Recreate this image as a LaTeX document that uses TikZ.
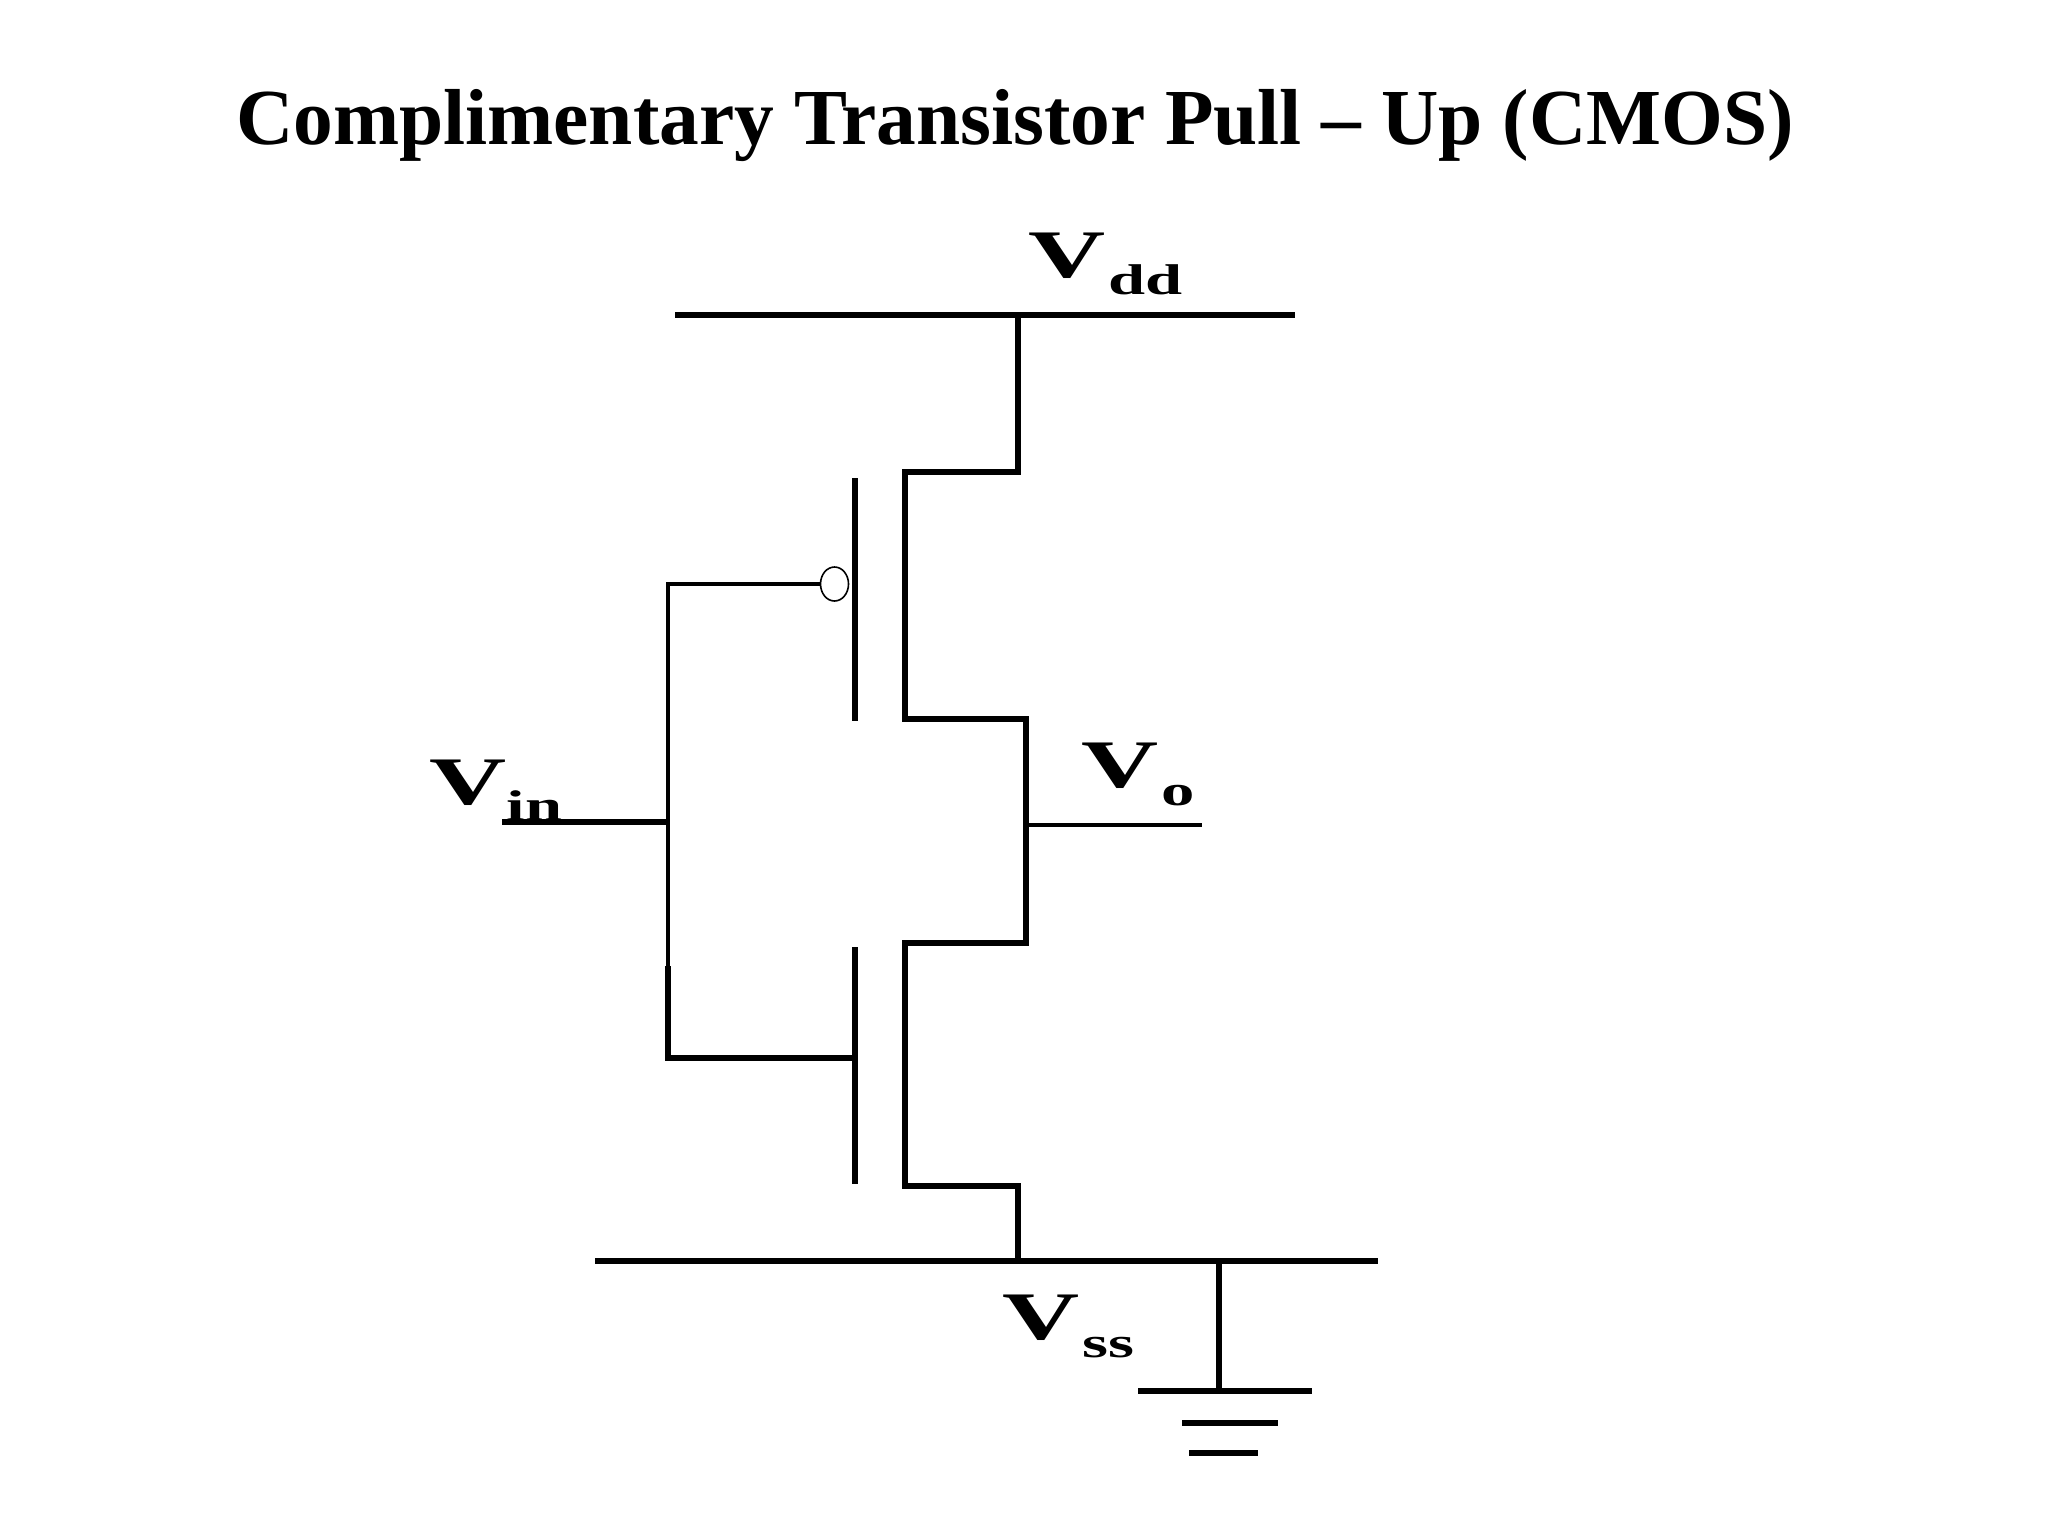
\documentclass[tikz,border=0pt]{standalone}
\usepackage{fontspec}
\usepackage{tikz}
\usetikzlibrary{shapes.geometric}
\setmainfont{Liberation Serif}

% V with a stretched subscript, bitmap look of the labels
\newcommand{\vname}[3]{\scalebox{1.57}[1]{\fontsize{34}{34}\selectfont\bfseries V}\raisebox{#3}{\hspace{#2}\scalebox{1.55}[1]{\fontsize{21.5}{22}\selectfont\bfseries #1}}}

\tikzset{
	wire/.style={line width=2.8pt},
	railwire/.style={line width=2.6pt},
	thinwire/.style={line width=1.8pt},
	vlabel/.style={anchor=base west, inner sep=0pt}
}

\begin{document}
\begin{tikzpicture}[x=0.5pt,y=-0.5pt]
\useasboundingbox (0,0) rectangle (2048,1536);

% title
\node[anchor=base] (title) at (1015,144) {\fontsize{39.7}{40}\selectfont\bfseries Complimentary Transistor Pull -- Up (CMOS)};

% rails
\coordinate (vddl) at (675,315);
\coordinate (vddr) at (1295,315);
\coordinate (vddt) at (1018,315);
\coordinate (vssl) at (595,1261);
\coordinate (vssr) at (1378,1261);
\coordinate (vsst) at (1018,1261);
\coordinate (gndt) at (1219,1261);
\draw[railwire] (vddl) -- (vddr);
\draw[railwire] (vssl) -- (vssr);

% drain and source path
\coordinate (pa) at (1018,472);
\coordinate (pb) at (905,472);
\coordinate (pc) at (905,719);
\coordinate (out) at (1026,719);
\coordinate (outb) at (1026,943);
\coordinate (na) at (905,943);
\coordinate (nb) at (905,1186);
\coordinate (nc) at (1018,1186);
\draw[wire] (vddt) -- (pa) -- (pb) -- (pc) -- (out) -- (outb) -- (na) -- (nb) -- (nc) -- (vsst);

% gates
\coordinate (gpt) at (855,478);
\coordinate (gpb) at (855,721);
\coordinate (gnt) at (855,947);
\coordinate (gnb) at (855,1184);
\coordinate (gnm) at (855,1058);
\draw[wire] (gpt) -- (gpb);
\draw[wire] (gnt) -- (gnb);

% input
\node[draw, ellipse, line width=0.8pt, inner sep=0pt, minimum width=14pt, minimum height=17pt] (bubble) at (834.5,584) {};
\coordinate (inpt) at (668,584);
\coordinate (inpm) at (668,966);
\coordinate (inpb) at (668,1058);
\coordinate (inp) at (668,822);
\coordinate (vinl) at (502,822);
\draw[thinwire] (bubble.west) -- (inpt) -- (inpm);
\draw[railwire] (inpm) -- (inpb) -- (gnm);
\draw[wire] (vinl) -- (inp);

% output
\coordinate (vor) at (1202,825);
\coordinate (vol) at (1026,825);
\draw[thinwire] (vol) -- (vor);

% ground
\coordinate (gndm) at (1219,1391);
\coordinate (gal) at (1138,1391);
\coordinate (gar) at (1312,1391);
\coordinate (gbl) at (1182,1423);
\coordinate (gbr) at (1278,1423);
\coordinate (gcl) at (1189,1453);
\coordinate (gcr) at (1258,1453);
\draw[wire] (gndt) -- (gndm);
\draw[railwire] (gal) -- (gar);
\draw[railwire] (gbl) -- (gbr);
\draw[railwire] (gcl) -- (gcr);

% labels
\node[vlabel] (vdd) at (1028,277) {\vname{dd}{1.5pt}{-8.5pt}};
\node[vlabel] (vin) at (429,804) {\vname{in}{0pt}{-8pt}};
\node[vlabel] (vo) at (1081,787) {\vname{o}{1.5pt}{-9pt}};
\node[vlabel] (vss) at (1002,1339) {\vname{ss}{1.5pt}{-9pt}};

\end{tikzpicture}
\end{document}
